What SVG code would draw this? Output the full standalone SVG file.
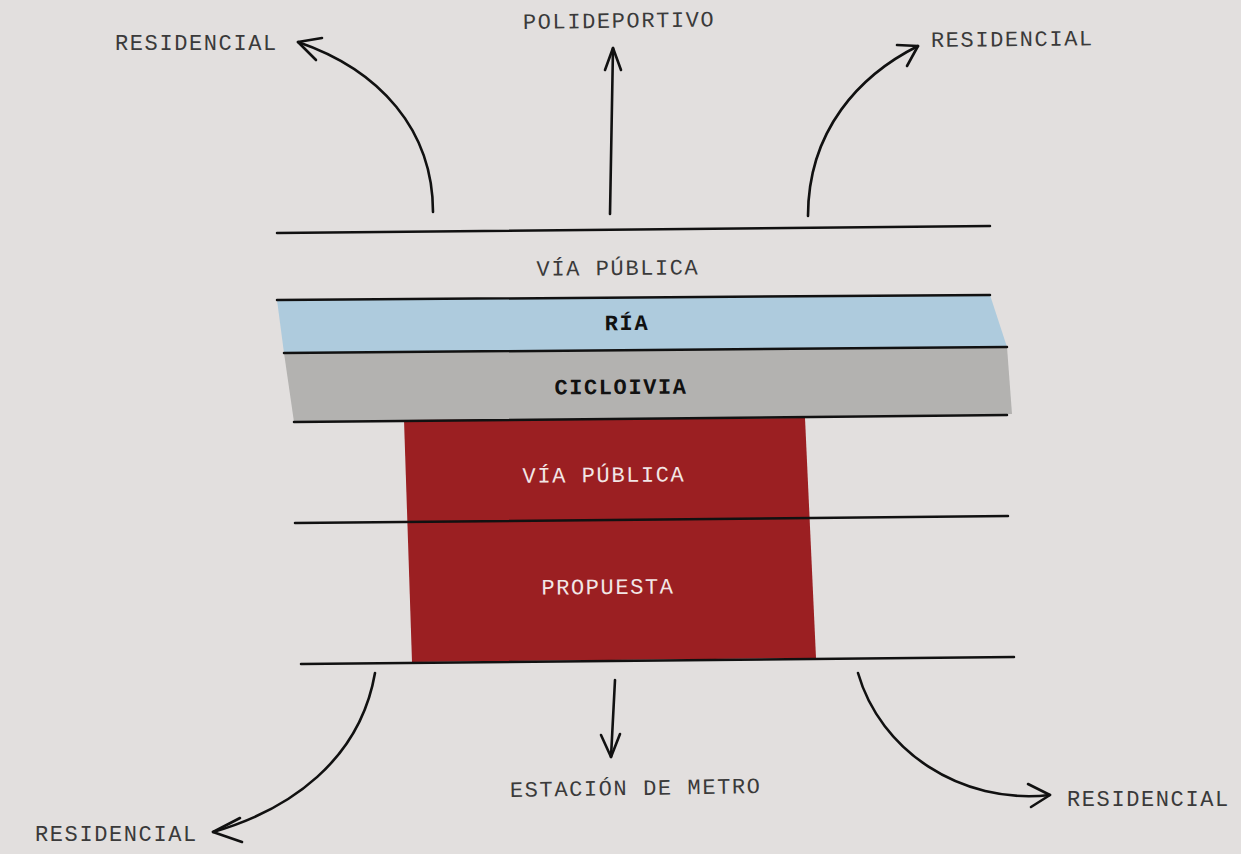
<svg xmlns="http://www.w3.org/2000/svg" width="1241" height="854" viewBox="0 0 1241 854">
<style>
.t{font-family:"Liberation Mono","Courier New",monospace;font-size:22px;fill:#3a3a3a;letter-spacing:1.6px}
.b{font-weight:bold;fill:#111}
.w{fill:#f2e6e6}
.ln{stroke:#111;stroke-width:2.5;fill:none;stroke-linecap:round}
.ar{stroke:#111;stroke-width:2.6;fill:none;stroke-linecap:round;stroke-linejoin:round}
</style>
<rect width="1241" height="854" fill="#e2dfde"/>
<g id="ria">
<polygon points="277,300 990,295 1007,347 284,353" fill="#aecbdd"/>
<text class="t b" x="627" y="330" text-anchor="middle" transform="rotate(-0.4 627 330)">RÍA</text>
</g>
<g id="cicloivia">
<polygon points="284,353 1007,347 1012,414 294,422" fill="#b3b2b0"/>
<text class="t b" x="621" y="394" text-anchor="middle" transform="rotate(-0.4 621 394)">CICLOIVIA</text>
</g>
<g id="propuesta">
<polygon points="404,420 805,418 816,658 412,662" fill="#9b1f22"/>
<text class="t w" x="604" y="482" text-anchor="middle" transform="rotate(-0.5 604 482)">VÍA PÚBLICA</text>
<text class="t w" x="608" y="594" text-anchor="middle" transform="rotate(-0.5 608 594)">PROPUESTA</text>
</g>
<g id="via-publica">
<text class="t" x="618" y="275" text-anchor="middle" transform="rotate(-0.5 618 275)">VÍA PÚBLICA</text>
</g>
<g id="lines">
<line class="ln" x1="277" y1="233" x2="990" y2="226"/>
<line class="ln" x1="277" y1="300" x2="990" y2="295"/>
<line class="ln" x1="284" y1="353" x2="1007" y2="347"/>
<line class="ln" x1="294" y1="422" x2="1007" y2="415"/>
<line class="ln" x1="295" y1="523" x2="1008" y2="516"/>
<line class="ln" x1="301" y1="664" x2="1014" y2="657"/>
</g>
<g id="labels">
<text class="t" x="115" y="50">RESIDENCIAL</text>
<text class="t" x="523" y="29" transform="rotate(-0.8 523 29)">POLIDEPORTIVO</text>
<text class="t" x="931" y="47" transform="rotate(-0.6 931 47)">RESIDENCIAL</text>
<text class="t" x="510" y="797" transform="rotate(-0.9 510 797)">ESTACIÓN DE METRO</text>
<text class="t" x="35" y="841">RESIDENCIAL</text>
<text class="t" x="1067" y="806">RESIDENCIAL</text>
</g>
<g id="connectors">
<path class="ar" d="M433,212 C433,130 380,70 298,42"/>
<path class="ar" d="M322,38 L298,42 L316,60"/>
<path class="ar" d="M610,214 L613,48"/>
<path class="ar" d="M605,70 L613,48 L621,70"/>
<path class="ar" d="M808,216 C808,130 860,75 918,46"/>
<path class="ar" d="M897,45 L918,46 L907,66"/>
<path class="ar" d="M615,680 L611,757"/>
<path class="ar" d="M601,735 L611,757 L620,734"/>
<path class="ar" d="M375,673 C360,760 290,810 213,832"/>
<path class="ar" d="M240,818 L213,832 L242,842"/>
<path class="ar" d="M858,673 C880,750 960,805 1050,795"/>
<path class="ar" d="M1028,784 L1050,795 L1031,807"/>
</g>
</svg>
